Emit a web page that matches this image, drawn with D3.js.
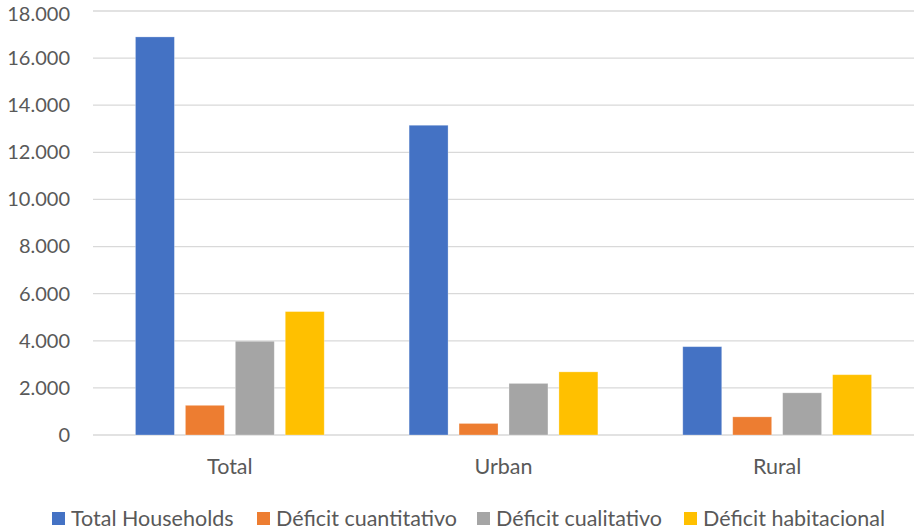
<!DOCTYPE html>
<html>
<head>
<meta charset="utf-8">
<script src="https://cdn.jsdelivr.net/npm/d3@7"></script>
<style>
  html, body { margin: 0; padding: 0; background: #fff; }
  svg { display: block; }
  text { font-family: Lato, "Open Sans", sans-serif; fill: #595959; }
</style>
</head>
<body>
<svg id="chart" width="914" height="530"></svg>
<script>
// Household totals and housing deficit by area
const categories = ["Total", "Urban", "Rural"];
const seriesNames = ["Total Households", "Déficit cuantitativo", "Déficit cualitativo", "Déficit habitacional"];
const totalHouseholds = [16900, 13150, 3750];
const deficitCuantitativo = [1260, 490, 770];
const deficitCualitativo = [3980, 2190, 1790];
const deficitHabitacional = [5240, 2680, 2560];
const yTicks = [0, 2000, 4000, 6000, 8000, 10000, 12000, 14000, 16000, 18000];
const colors = ["#4472C4", "#ED7D31", "#A5A5A5", "#FFC000"];

const seriesValues = [totalHouseholds, deficitCuantitativo, deficitCualitativo, deficitHabitacional];
const rows = categories.map((c, i) => ({
  category: c,
  values: seriesNames.map((s, j) => ({ series: s, value: seriesValues[j][i], color: colors[j] }))
}));

const svg = d3.select("#chart");
const plot = { left: 93, right: 914, top: 11, bottom: 435 };

const y = d3.scaleLinear().domain([0, 18000]).range([plot.bottom, plot.top]);
const x0 = d3.scaleBand().domain(categories).range([plot.left, plot.right]).paddingInner(0).paddingOuter(0);
const x1 = d3.scaleBand().domain(seriesNames).range([0, x0.bandwidth()])
  .paddingInner(0.22).paddingOuter(0.85);

const fmt = d3.formatLocale({ decimal: ",", thousands: ".", grouping: [3], currency: ["", ""] }).format(",.0f");

// Gridlines
svg.append("g")
  .selectAll("line")
  .data(yTicks)
  .join("line")
  .attr("x1", plot.left).attr("x2", plot.right)
  .attr("y1", d => y(d)).attr("y2", d => y(d))
  .attr("stroke", "#d9d9d9").attr("stroke-width", 1.3);

// Y axis labels
const yAxis = d3.axisLeft(y).tickValues(yTicks).tickFormat(fmt).tickSize(0).tickPadding(0);
const gy = svg.append("g").attr("transform", "translate(70,0)").call(yAxis);
gy.select(".domain").remove();
gy.selectAll("text").attr("font-size", 20).attr("fill", "#595959")
  .style("font-family", "Lato, 'Open Sans', sans-serif");
// keep the topmost label's box inside the canvas
gy.selectAll(".tick").each(function () {
  const t = d3.select(this).select("text");
  const box = this.getBBox();
  const ty = +this.getAttribute("transform").match(/,\s*([-\d.]+)\)/)[1];
  const overflow = -(ty + box.y);
  if (overflow > 0) t.attr("y", overflow + 0.5);
});

// Bars
const groups = svg.append("g").selectAll("g")
  .data(rows)
  .join("g")
  .attr("transform", d => `translate(${x0(d.category)},0)`);

groups.selectAll("rect")
  .data(d => d.values)
  .join("rect")
  .attr("x", d => x1(d.series))
  .attr("width", x1.bandwidth())
  .attr("y", d => y(d.value))
  .attr("height", d => y(0) - y(d.value))
  .attr("fill", d => d.color)
  .attr("stroke", "#ffffff").attr("stroke-opacity", 0.35).attr("stroke-width", 0.8);

// X axis labels
const xAxis = d3.axisBottom(x0).tickSize(0).tickPadding(0);
const gx = svg.append("g").attr("transform", `translate(0,${plot.bottom})`).call(xAxis);
gx.select(".domain").remove();
gx.selectAll("text").attr("font-size", 21.5).attr("fill", "#595959")
  .attr("dy", null).attr("y", 39)
  .style("font-family", "Lato, 'Open Sans', sans-serif");

// Legend
const legendX = [52, 257, 477, 684];
const legend = svg.append("g").selectAll("g")
  .data(seriesNames)
  .join("g")
  .attr("transform", (d, i) => `translate(${legendX[i]},512)`);
legend.append("rect").attr("width", 13).attr("height", 13)
  .attr("fill", (d, i) => colors[i]);
legend.append("text").attr("x", 19).attr("y", 13.5)
  .attr("font-size", 21.5).text(d => d);
</script>
</body>
</html>
